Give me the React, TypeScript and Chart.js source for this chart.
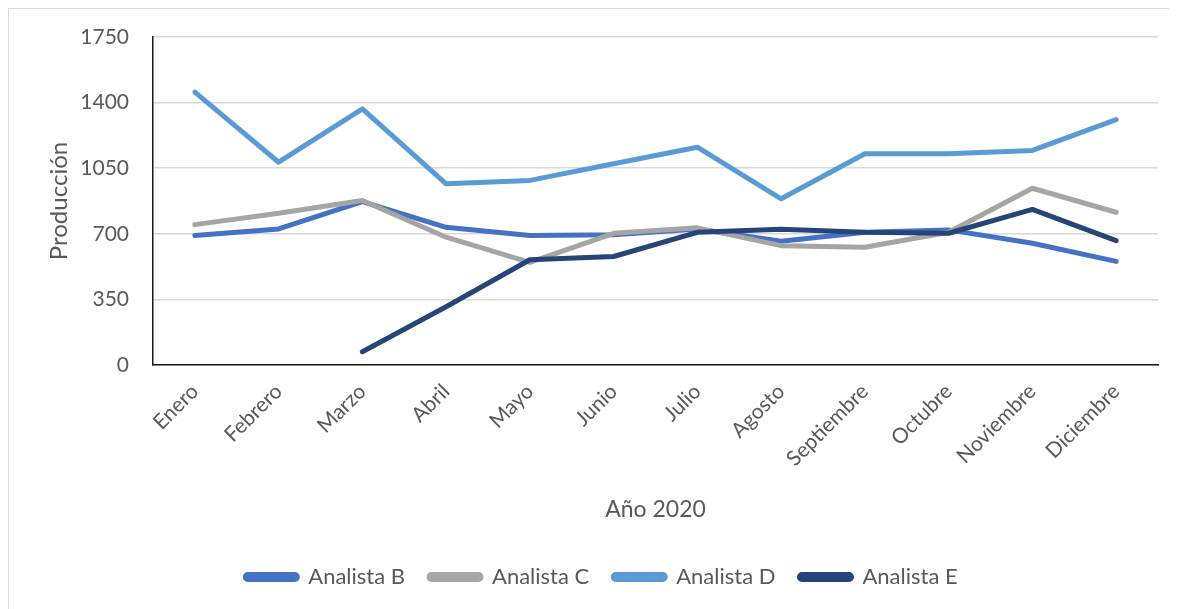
import React, { useEffect, useRef } from "react";
import { Chart, registerables } from "chart.js";

Chart.register(...registerables);

const months = [
  "Enero", "Febrero", "Marzo", "Abril", "Mayo", "Junio",
  "Julio", "Agosto", "Septiembre", "Octubre", "Noviembre", "Diciembre",
];
const analistaB = [691, 726, 872, 735, 691, 695, 726, 660, 708, 721, 650, 553];
const analistaC = [749, 810, 878, 682, 548, 703, 732, 637, 628, 708, 943, 815];
const analistaD = [1456, 1082, 1367, 967, 985, 1074, 1162, 887, 1127, 1127, 1145, 1309];
const analistaE = [null, null, 71, 311, 562, 579, 708, 724, 708, 703, 830, 664];
const yTicks = [0, 350, 700, 1050, 1400, 1750];

const FONT = "Lato, 'Open Sans', sans-serif";

export default function App() {
  const ref = useRef<HTMLCanvasElement | null>(null);

  useEffect(() => {
    if (!ref.current) return;
    const mk = (label: string, data: (number | null)[], color: string, order: number) => ({
      label,
      data,
      borderColor: color,
      backgroundColor: color,
      borderWidth: 5,
      pointRadius: 0,
      pointHoverRadius: 0,
      borderCapStyle: "round" as const,
      borderJoinStyle: "round" as const,
      tension: 0,
      order,
    });
    const chart = new Chart(ref.current, {
      type: "line",
      data: {
        labels: months,
        datasets: [
          mk("Analista B", analistaB, "#4472C4", 4),
          mk("Analista C", analistaC, "#A5A5A5", 3),
          mk("Analista D", analistaD, "#5B9BD5", 2),
          mk("Analista E", analistaE, "#264478", 1),
        ],
      },
      options: {
        animation: false,
        responsive: false,
        maintainAspectRatio: false,
        layout: { padding: { left: 36, right: 19, top: 28, bottom: 11 } },
        plugins: {
          tooltip: { enabled: false },
          legend: {
            position: "bottom",
            labels: {
              font: { family: FONT, size: 22 },
              color: "#595959",
              boxWidth: 52,
              boxHeight: 5,
              useBorderRadius: true,
              borderRadius: 2.5,
              padding: 24,
              sort: (a: any, b: any) => a.datasetIndex - b.datasetIndex,
            },
          },
        },
        scales: {
          x: {
            offset: true,
            grid: { display: false, drawTicks: false, offset: true },
            border: { display: true, color: "#1a1a1a", width: 1.5 },
            ticks: {
              font: { family: FONT, size: 21 },
              color: "#595959",
              minRotation: 45,
              maxRotation: 45,
              padding: 14,
              autoSkip: false,
            },
            title: {
              display: true,
              text: "Año 2020",
              font: { family: FONT, size: 23 },
              color: "#595959",
              padding: { top: 10, bottom: 19 },
            },
          },
          y: {
            min: 0,
            max: 1750,
            afterBuildTicks: (s: any) => {
              s.ticks = yTicks.map((v) => ({ value: v }));
            },
            afterFit: (s: any) => {
              s.width = 108;
            },
            grid: {
              color: "#d9d9d9",
              lineWidth: 1.5,
              drawTicks: true,
              tickLength: 24,
              tickColor: "rgba(0,0,0,0)",
            },
            border: { display: true, color: "#1a1a1a", width: 1.5 },
            ticks: {
              font: { family: FONT, size: 21 },
              color: "#595959",
              padding: 0,
              callback: (v: any) => String(v),
            },
            title: {
              display: true,
              text: "Producción",
              font: { family: FONT, size: 24 },
              color: "#595959",
              padding: { top: 0, bottom: 0 },
            },
          },
        },
      },
    });
    return () => chart.destroy();
  }, []);

  return (
    <div
      style={{
        width: 1168,
        height: 600,
        borderTop: "1px solid #d9d9d9",
        borderLeft: "1px solid #d9d9d9",
        background: "#fff",
      }}
    >
      <canvas ref={ref} width={1168} height={600} style={{ display: "block" }} />
    </div>
  );
}
